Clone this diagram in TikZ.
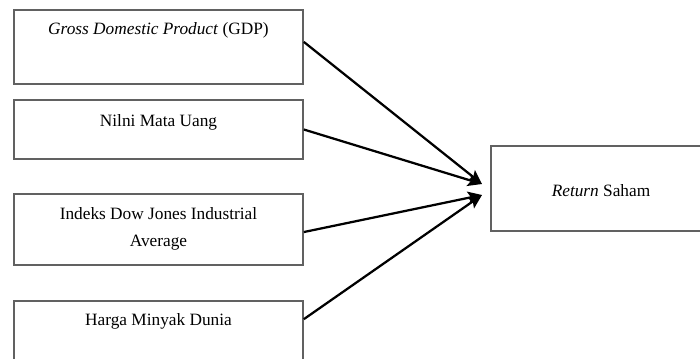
\documentclass[tikz,border=0pt]{standalone}
\usepackage{fontspec}
\setmainfont{Liberation Serif}
\usetikzlibrary{arrows.meta}

\tikzset{
  varbox/.style={draw=black!62, line width=1.2pt, minimum width=289*0.025cm, inner sep=0pt},
  varlabel/.style={font=\fontsize{12.3}{19.2}\selectfont, align=center, inner sep=0pt},
  effect/.style={line width=1.6pt, -{Stealth[length=10pt,width=9pt,inset=2pt]}}
}

\begin{document}
\begin{tikzpicture}[x=0.025cm, y=-0.025cm]
    \useasboundingbox (0,0) rectangle (700,358);
    \clip (0,0) rectangle (700,358);
    % Independent variables
    \node[varbox, minimum height=74*0.025cm] (gdp) at (158.5, 47) {};
    \node[varlabel] (gdptxt) at (158.5, 30) {\textit{Gross Domestic Product} (GDP)};
    \node[varbox, minimum height=59*0.025cm] (kurs) at (158.5, 129.5) {};
    \node[varlabel] (kurstxt) at (158.5, 122) {Nilni Mata Uang};
    \node[varbox, minimum height=71*0.025cm] (djia) at (158.5, 229.5) {};
    \node[varlabel] (djiatxt) at (158.5, 229) {Indeks Dow Jones Industrial\\Average};
    \node[varbox, minimum height=72*0.025cm] (minyak) at (158.5, 337) {};
    \node[varlabel] (minyaktxt) at (158.5, 321) {Harga Minyak Dunia};
    % Dependent variable
    \node[varbox, minimum width=220*0.025cm, minimum height=85*0.025cm] (ret) at (601, 188.5) {};
    \node[varlabel] (rettxt) at (601, 191) {\textit{Return} Saham};
    % Arrows
    \coordinate (inA) at (482, 184);
    \coordinate (inB) at (482, 195);
    \draw[effect] (gdp.2) -- (inA);
    \draw[effect] (kurs.east) -- (inA);
    \draw[effect] (djia.-1) -- (inB);
    \draw[effect] (minyak.7.5) -- (inB);
\end{tikzpicture}
\end{document}
